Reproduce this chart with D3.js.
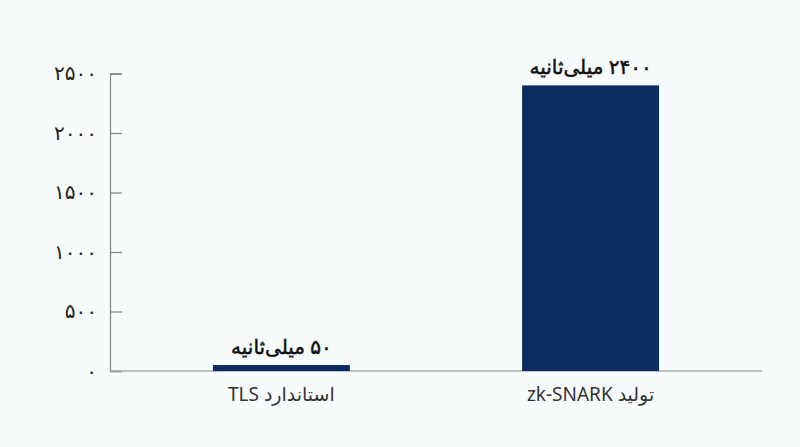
<!DOCTYPE html>
<html lang="fa">
<head>
<meta charset="utf-8">
<script src="https://cdn.jsdelivr.net/npm/d3@7"></script>
<style>
    html, body { margin: 0; padding: 0; background: #f8fbfc; }
    #chart { width: 800px; height: 447px; }
    text { font-family: "Noto Sans", "DejaVu Sans", sans-serif; fill: #222; }
</style>
</head>
<body>
<div id="chart"></div>
<script>
// Latency comparison: TLS handshake vs zk-SNARK proof generation
const categories = ["استاندارد TLS", "تولید zk-SNARK"];
const values = [50, 2400];
const valueLabels = ["۵۰ میلی‌ثانیه", "۲۴۰۰ میلی‌ثانیه"];
const yTicks = [0, 500, 1000, 1500, 2000, 2500];

(() => {
    const W = 800, H = 447;
    const faDigits = n => String(n).replace(/\d/g, d => "۰۱۲۳۴۵۶۷۸۹"[d]);

    const svg = d3.select("#chart").append("svg").attr("width", W).attr("height", H);

    const x = d3.scaleBand().domain(categories).range([110, 762]).paddingInner(0.557).paddingOuter(0.333);
    const y = d3.scaleLinear().domain([0, 2500]).range([371, 73.5]);

    // y axis, ticks pointing inward
    const ya = svg.append("g").attr("transform", "translate(110,0)")
        .call(d3.axisRight(y).tickValues(yTicks).tickSize(12).tickFormat(faDigits));
    ya.select(".domain").attr("stroke", "#888").attr("stroke-width", 1.3);
    ya.selectAll(".tick line").attr("stroke", "#888").attr("stroke-width", 1.3);
    ya.selectAll(".tick text").attr("x", -13).attr("text-anchor", "end")
        .style("font-size", "20px").attr("dy", "0.32em");

    // baseline
    svg.append("line").attr("x1", 110).attr("x2", 762).attr("y1", y(0)).attr("y2", y(0))
        .attr("stroke", "#aaa").attr("stroke-width", 1.3);

    svg.selectAll("rect.bar")
        .data(values)
        .join("rect")
        .attr("class", "bar")
        .attr("x", (d, i) => x(categories[i]))
        .attr("width", x.bandwidth())
        .attr("y", d => y(d))
        .attr("height", d => y(0) - y(d))
        .attr("fill", "#0b2c5f");

    svg.selectAll("text.val")
        .data(values)
        .join("text")
        .attr("class", "val")
        .attr("x", (d, i) => x(categories[i]) + x.bandwidth() / 2)
        .attr("y", d => y(d) - 11)
        .attr("text-anchor", "middle")
        .attr("direction", "rtl")
        .style("font-size", "20px").style("fill", "#111")
        .style("stroke", "#111").style("stroke-width", 0.5)
        .text((d, i) => valueLabels[i]);

    svg.selectAll("text.cat")
        .data(categories)
        .join("text")
        .attr("class", "cat")
        .attr("x", d => x(d) + x.bandwidth() / 2)
        .attr("y", 401)
        .attr("text-anchor", "middle")
        .attr("direction", "rtl")
        .style("font-size", "19px").style("fill", "#333")
        .text(d => d);
})();
</script>
</body>
</html>
